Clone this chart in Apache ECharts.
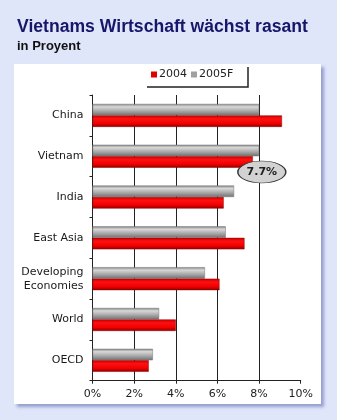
<!DOCTYPE html>
<html>
<head>
<meta charset="utf-8">
<script src="https://cdn.jsdelivr.net/npm/echarts@6/dist/echarts.min.js"></script>
<style>
html,body{margin:0;padding:0;background:#dfe6fa;}
#chart{width:337px;height:420px;}
</style>
</head>
<body>
<div id="chart"></div>
<script>
const categories = ['China', 'Vietnam', 'India', 'East Asia', 'Developing\nEconomies', 'World', 'OECD'];
const values2004 = [9.1, 7.7, 6.3, 7.3, 6.1, 4.0, 2.7];
const values2005F = [8.0, 8.0, 6.8, 6.4, 5.4, 3.2, 2.9];
const xTicks = [0, 2, 4, 6, 8, 10];
const calloutText = '7.7%';

const chart = echarts.init(document.getElementById('chart'), null, {renderer: 'canvas'});

const grayGrad = new echarts.graphic.LinearGradient(0, 0, 0, 1, [
  {offset: 0, color: '#808080'},
  {offset: 0.25, color: '#d8d8d8'},
  {offset: 0.6, color: '#aaaaaa'},
  {offset: 1, color: '#707070'}
]);
const redGrad = new echarts.graphic.LinearGradient(0, 0, 0, 1, [
  {offset: 0, color: '#c80000'},
  {offset: 0.3, color: '#ff1010'},
  {offset: 0.7, color: '#f00000'},
  {offset: 1, color: '#8c0000'}
]);

const option = {
  backgroundColor: '#dfe6fa',
  animation: false,
  title: {
    text: 'Vietnams Wirtschaft wächst rasant',
    subtext: 'in Proyent',
    left: 12,
    top: 13,
    itemGap: 4,
    textStyle: {fontFamily: 'Liberation Sans', fontWeight: 'bold', fontSize: 17.6, color: '#16166a'},
    subtextStyle: {fontFamily: 'Liberation Sans', fontWeight: 'bold', fontSize: 13, color: '#111'}
  },
  graphic: [
    {
      type: 'rect', z: -10, silent: true,
      shape: {x: 14, y: 64, width: 307, height: 340},
      style: {fill: '#ffffff', shadowColor: 'rgba(90,100,170,0.55)', shadowBlur: 3, shadowOffsetX: 3, shadowOffsetY: 3}
    },
    {
      type: 'polyline', z: 10, silent: true,
      shape: {points: [[248, 67], [248, 87], [147, 87]]},
      style: {stroke: '#222', lineWidth: 1.5, fill: null}
    }
  ],
  legend: {
    left: 151,
    top: 69,
    icon: 'rect',
    itemWidth: 6,
    itemHeight: 6,
    itemGap: 4,
    padding: 0,
    textStyle: {fontFamily: 'DejaVu Sans', fontSize: 11, color: '#222', padding: [0, 0, 0, -3]},
    data: [
      {name: '2004', itemStyle: {color: '#e00000', borderWidth: 0}},
      {name: '2005F', itemStyle: {color: '#a0a0a0', borderWidth: 0}}
    ]
  },
  grid: {left: 92.5, right: 36.3, top: 95, bottom: 39.3, containLabel: false},
  xAxis: {
    type: 'value',
    min: xTicks[0],
    max: xTicks[xTicks.length - 1],
    interval: 2,
    axisLine: {show: true, lineStyle: {color: '#222', width: 1}},
    axisTick: {show: true, length: 3, lineStyle: {color: '#222'}},
    axisLabel: {formatter: '{value}%', fontFamily: 'DejaVu Sans', fontSize: 11, color: '#222', margin: 8},
    splitLine: {show: true, showMinLine: false, showMaxLine: false, lineStyle: {color: '#222', width: 1}}
  },
  yAxis: {
    type: 'category',
    data: categories,
    inverse: true,
    axisLine: {show: true, lineStyle: {color: '#222', width: 1}},
    axisTick: {show: true, length: 3, lineStyle: {color: '#222'}},
    axisLabel: {fontFamily: 'DejaVu Sans', fontSize: 11, color: '#1a1a1a', margin: 9, lineHeight: 14, align: 'right'}
  },
  series: [
    {
      name: '2005F',
      type: 'bar',
      data: values2005F,
      barWidth: 11.5,
      barGap: '0%',
      itemStyle: {color: grayGrad, borderColor: '#777', borderWidth: 0.5}
    },
    {
      name: '2004',
      type: 'bar',
      data: values2004,
      barWidth: 11.5,
      barGap: '0%',
      itemStyle: {color: redGrad, borderColor: '#8c0000', borderWidth: 0.5},
      markPoint: {
        symbol: 'circle',
        symbolSize: [48, 22],
        symbolOffset: [9, 10],
        itemStyle: {color: '#d2d2d2', borderColor: '#333', borderWidth: 1},
        label: {show: true, formatter: calloutText, fontFamily: 'DejaVu Sans', fontWeight: 'bold', fontSize: 11, color: '#222', position: 'inside'},
        data: [{coord: [values2004[1], categories[1]]}],
        z: 20
      }
    }
  ]
};
chart.setOption(option);
</script>
</body>
</html>
